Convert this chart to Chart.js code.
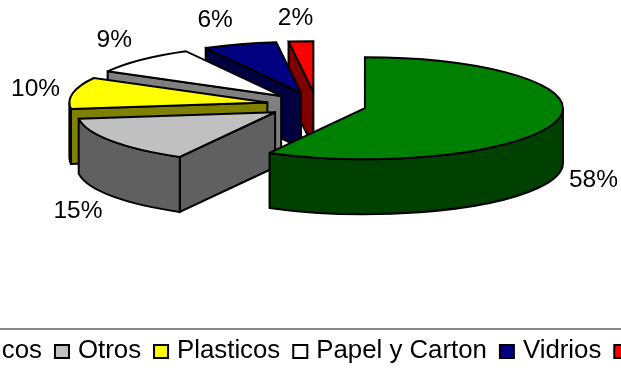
<!DOCTYPE html>
<html>
<head>
<meta charset="utf-8">
<title>Residuos</title>
<script src="https://cdn.jsdelivr.net/npm/chart.js@4/dist/chart.umd.js"></script>
<style>
  html, body { margin: 0; padding: 0; background: #fff; overflow: hidden; }
  canvas { display: block; }
</style>
</head>
<body>
<canvas id="myChart" width="621" height="370"></canvas>
<script>
var categories = ["Organicos", "Otros", "Plasticos", "Papel y Carton", "Vidrios", "Metales"];
var percents = [58, 15, 10, 9, 6, 2];
var topColors = ["#008000", "#C0C0C0", "#FFFF00", "#FFFFFF", "#000080", "#FF0000"];
var wallColors = ["#004000", "#606060", "#808000", "#808080", "#000040", "#800000"];

// nudges that move each percent label off its slice, x then y
var labelNudgeX = [0, -2, 0, 0, -13, -3];
var labelNudgeY = [57, 65, -2, -13, -15, -13];

var TILT = 0.2576;   // how flat the pie disc looks
var DEPTH = 55;      // height of the pie walls
var LABEL_GAP = 38;
var LINE = 2;
var FONT = "'Liberation Sans', Arial, sans-serif";

function sliceCentre(arc) {
  var mid = (arc.startAngle + arc.endAngle) / 2;
  var off = arc.options.offset;
  return {
    x: arc.x + Math.cos(mid) * off,
    y: arc.y + Math.sin(mid) * off * TILT
  };
}

function paint(ctx, fill) {
  ctx.fillStyle = fill;
  ctx.fill();
  ctx.strokeStyle = "#000";
  ctx.lineWidth = LINE;
  ctx.lineJoin = "miter";
  ctx.miterLimit = 3;
  ctx.stroke();
}

// side face along one radius of a slice
function radialWall(ctx, c, r, angle, fill) {
  var ex = c.x + Math.cos(angle) * r;
  var ey = c.y + Math.sin(angle) * r * TILT;
  ctx.beginPath();
  ctx.moveTo(c.x, c.y);
  ctx.lineTo(ex, ey);
  ctx.lineTo(ex, ey + DEPTH);
  ctx.lineTo(c.x, c.y + DEPTH);
  ctx.closePath();
  paint(ctx, fill);
}

// rim of the disc, only the part turned towards the front
function outerWall(ctx, c, r, a, b, fill) {
  var from = Math.max(a, 0);
  var to = Math.min(b, Math.PI);
  if (to <= from) return;
  ctx.beginPath();
  ctx.ellipse(c.x, c.y, r, r * TILT, 0, from, to);
  ctx.ellipse(c.x, c.y + DEPTH, r, r * TILT, 0, to, from, true);
  ctx.closePath();
  paint(ctx, fill);
}

var pie3d = {
  id: "pie3d",
  beforeDatasetDraw: function (chart, args) {
    var ctx = chart.ctx;
    var arcs = args.meta.data;
    // back slices first, the big one goes on top of the rest
    for (var i = arcs.length - 1; i >= 0; i--) {
      var arc = arcs[i];
      var c = sliceCentre(arc);
      var r = arc.outerRadius;
      var a = arc.startAngle, b = arc.endAngle;
      if (-Math.cos(a) > 0.001) radialWall(ctx, c, r, a, wallColors[i]);
      if (Math.cos(b) > 0.001) radialWall(ctx, c, r, b, wallColors[i]);
      outerWall(ctx, c, r, a, b, wallColors[i]);
      ctx.beginPath();
      ctx.moveTo(c.x, c.y);
      ctx.ellipse(c.x, c.y, r, r * TILT, 0, a, b);
      ctx.closePath();
      paint(ctx, arc.options.backgroundColor);
    }
    return false;
  },
  afterDatasetsDraw: function (chart) {
    var ctx = chart.ctx;
    var arcs = chart.getDatasetMeta(0).data;
    ctx.save();
    ctx.fillStyle = "#000";
    ctx.font = "24.5px " + FONT;
    ctx.textAlign = "center";
    ctx.textBaseline = "middle";
    arcs.forEach(function (arc, i) {
      var c = sliceCentre(arc);
      var mid = (arc.startAngle + arc.endAngle) / 2;
      var r = arc.outerRadius + LABEL_GAP;
      ctx.fillText(percents[i] + "%",
        c.x + Math.cos(mid) * r + labelNudgeX[i],
        c.y + Math.sin(mid) * r * TILT + labelNudgeY[i]);
    });
    ctx.restore();

    // legend strip: one line, wider than the canvas
    ctx.save();
    ctx.strokeStyle = "#606060";
    ctx.lineWidth = 1.5;
    ctx.beginPath();
    ctx.moveTo(0, 329);
    ctx.lineTo(chart.width, 329);
    ctx.stroke();
    ctx.font = "25.8px " + FONT;
    ctx.textBaseline = "alphabetic";
    ctx.textAlign = "left";
    var x = -99.6;
    categories.forEach(function (name, i) {
      ctx.fillStyle = topColors[i];
      ctx.fillRect(x + 1, 345, 14, 13);
      ctx.strokeStyle = "#000";
      ctx.lineWidth = 2;
      ctx.strokeRect(x + 1, 345, 14, 13);
      ctx.fillStyle = "#000";
      ctx.fillText(name, x + 24, 358);
      x += 24 + ctx.measureText(name).width + 12;
    });
    ctx.restore();
  }
};

var chart = new Chart(document.getElementById("myChart").getContext("2d"), {
  type: "pie",
  data: {
    labels: categories,
    datasets: [{
      data: percents,
      backgroundColor: topColors,
      borderColor: "#000",
      borderWidth: 1,
      offset: 50
    }]
  },
  options: {
    responsive: false,
    animation: false,
    events: [],
    radius: 198,
    layout: { padding: { left: 12, top: 0, right: 0, bottom: 160 } },
    plugins: { legend: { display: false }, tooltip: { enabled: false } }
  },
  plugins: [pie3d]
});
</script>
</body>
</html>
